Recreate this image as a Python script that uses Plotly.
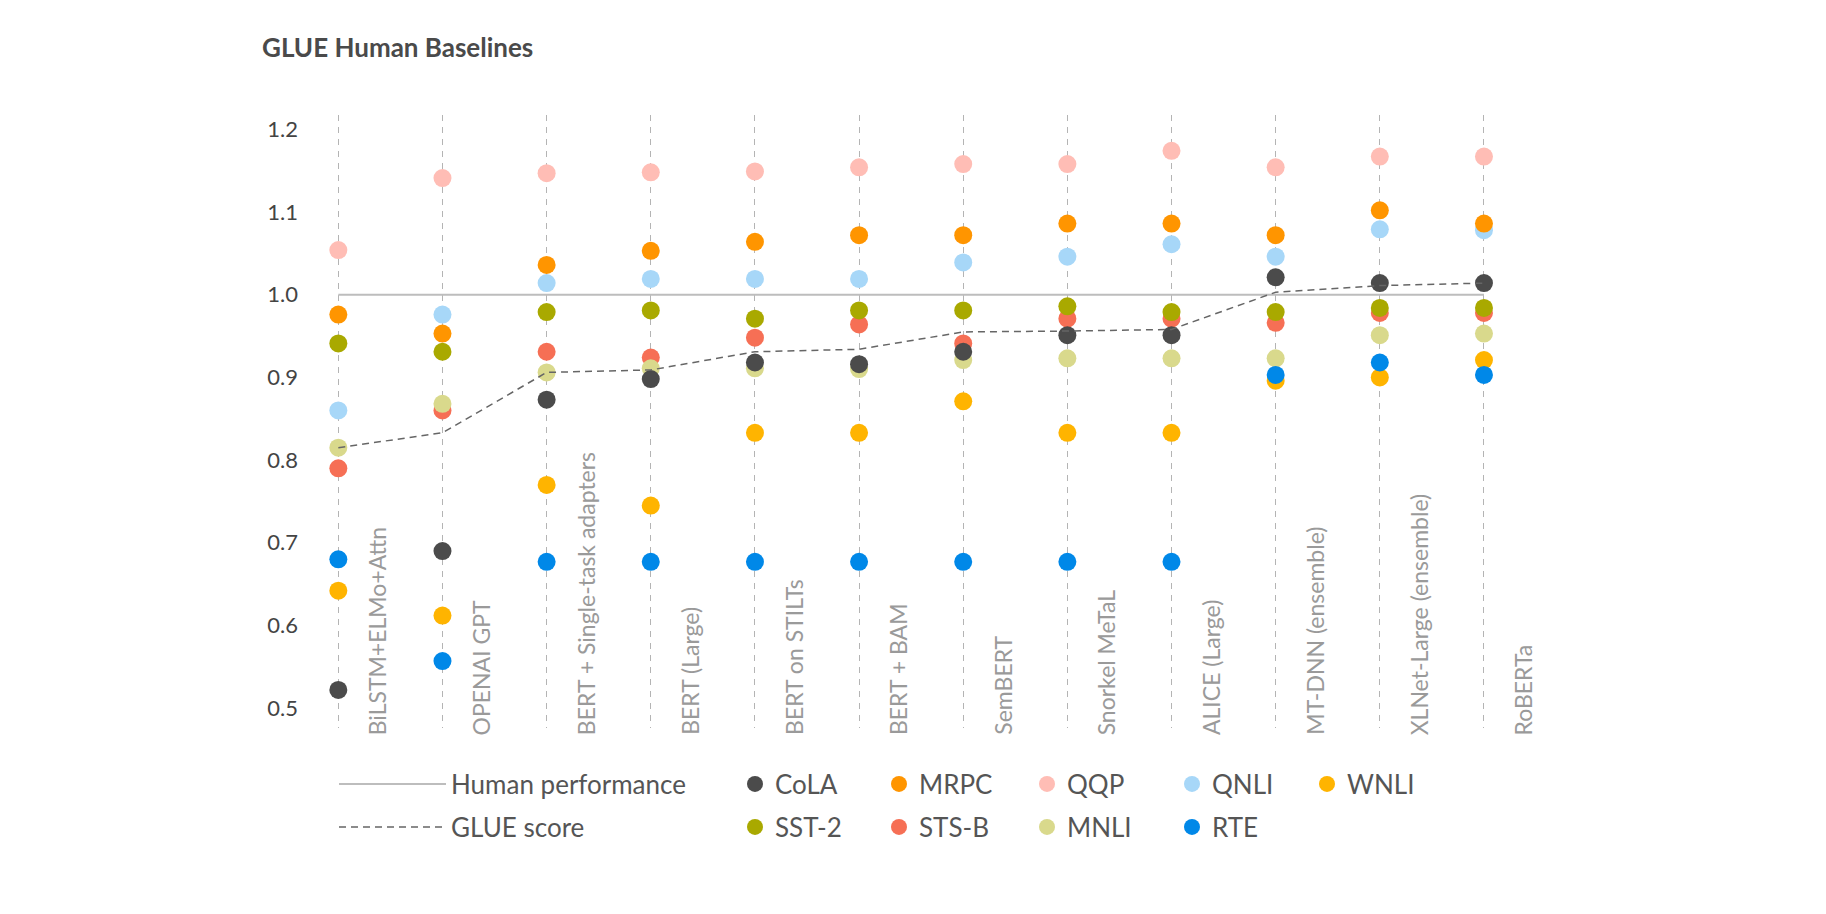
import plotly.graph_objects as go

models = ["BiLSTM+ELMo+Attn", "OPENAI GPT", "BERT + Single-task adapters", "BERT (Large)",
          "BERT on STILTs", "BERT + BAM", "SemBERT", "Snorkel MeTaL", "ALICE (Large)",
          "MT-DNN (ensemble)", "XLNet-Large (ensemble)", "RoBERTa"]

cola  = [0.522, 0.690, 0.873, 0.898, 0.918, 0.916, 0.931, 0.951, 0.951, 1.021, 1.014, 1.014]
sst2  = [0.941, 0.931, 0.979, 0.981, 0.971, 0.981, 0.981, 0.986, 0.979, 0.979, 0.984, 0.984]
mrpc  = [0.976, 0.953, 1.036, 1.053, 1.064, 1.072, 1.072, 1.086, 1.086, 1.072, 1.102, 1.086]
stsb  = [0.790, 0.860, 0.931, 0.924, 0.948, 0.964, 0.941, 0.971, 0.971, 0.966, 0.978, 0.978]
qqp   = [1.054, 1.141, 1.147, 1.148, 1.149, 1.154, 1.158, 1.158, 1.174, 1.154, 1.167, 1.167]
mnli  = [0.815, 0.868, 0.906, 0.911, 0.911, 0.910, 0.921, 0.923, 0.923, 0.923, 0.951, 0.953]
qnli  = [0.860, 0.976, 1.014, 1.019, 1.019, 1.019, 1.039, 1.046, 1.061, 1.046, 1.079, 1.078]
rte   = [0.680, 0.557, 0.677, 0.677, 0.677, 0.677, 0.677, 0.677, 0.677, 0.903, 0.918, 0.903]
wnli  = [0.642, 0.612, 0.770, 0.745, 0.833, 0.833, 0.871, 0.833, 0.833, 0.896, 0.900, 0.921]
glue  = [0.815, 0.833, 0.906, 0.909, 0.931, 0.934, 0.955, 0.956, 0.958, 1.003, 1.011, 1.014]
human = [1.0] * len(models)

y_ticks = [0.5, 0.6, 0.7, 0.8, 0.9, 1.0, 1.1, 1.2]

tasks = {
    "CoLA": (cola, "#4b4b4b"),
    "SST-2": (sst2, "#a9a900"),
    "MRPC": (mrpc, "#ff9500"),
    "STS-B": (stsb, "#f66f55"),
    "QQP": (qqp, "#ffbdb5"),
    "MNLI": (mnli, "#d9d98c"),
    "QNLI": (qnli, "#a7d7f8"),
    "RTE": (rte, "#0088e8"),
    "WNLI": (wnli, "#ffb400"),
}
legend_pos = {
    "CoLA": (727, 776), "SST-2": (727, 819),
    "MRPC": (871, 776), "STS-B": (871, 819),
    "QQP": (1019, 776), "MNLI": (1019, 819),
    "QNLI": (1164, 776), "RTE": (1164, 819),
    "WNLI": (1299, 776),
}
draw_order = ["QQP", "QNLI", "MRPC", "STS-B", "SST-2", "MNLI", "CoLA", "WNLI", "RTE"]

W, H = 1826, 914
FONT = "Lato, Source Sans Pro, sans-serif"
xs = list(range(len(models)))

fig = go.Figure()
layout_legends = {}

def cx(px):
    return px / W

def cy(py):
    return 1 - py / H

fig.add_trace(go.Scatter(x=xs, y=human, mode="lines", name="Human performance",
                         line=dict(color="#bdbdbd", width=2), legend="legend"))
layout_legends["legend"] = dict(x=cx(326), y=cy(776), itemwidth=107)

for i, name in enumerate(draw_order):
    vals, col = tasks[name]
    lid = "legend%d" % (i + 3)
    fig.add_trace(go.Scatter(x=xs, y=vals, mode="markers", name=name,
                             marker=dict(color=col, size=18, line=dict(width=0)),
                             legend=lid))
    px, py = legend_pos[name]
    layout_legends[lid] = dict(x=cx(px), y=cy(py))

fig.add_trace(go.Scatter(x=xs, y=glue, mode="lines", name="GLUE score",
                         line=dict(color="#666666", width=1.5, dash="7px,5px"), legend="legend2"))
layout_legends["legend2"] = dict(x=cx(326), y=cy(819), itemwidth=107)

for k, v in layout_legends.items():
    v.update(xref="container", yref="container", xanchor="left", yanchor="middle",
             bgcolor="rgba(0,0,0,0)", font=dict(family=FONT, size=26, color="#555555"))
    fig.update_layout(**{k: v})

annotations = []
for i, m in enumerate(models):
    annotations.append(dict(x=i, y=0, xref="x", yref="paper", text=m, showarrow=False,
                            textangle=-90, xanchor="center", yanchor="bottom",
                            xshift=39, yshift=-9,
                            font=dict(family=FONT, size=23, color="#9a9a9a")))

fig.update_layout(
    width=W, height=H,
    margin=dict(l=297, r=W - 1552, t=107, b=H - 720, autoexpand=False),
    paper_bgcolor="white", plot_bgcolor="white",
    showlegend=True,
    title=dict(text="<b>GLUE Human Baselines</b>", x=254 / W, xref="container", xanchor="left",
               y=cy(40), yref="container", yanchor="middle",
               font=dict(family=FONT, size=26, color="#4a4a4a")),
    xaxis=dict(range=[-0.32, 11.73], tickvals=xs, showticklabels=False, showgrid=True,
               gridcolor="#b4b4b4", gridwidth=1, griddash="6px,6px", zeroline=False,
               showline=False, ticks=""),
    yaxis=dict(range=[0.476, 1.2173], tickvals=y_ticks, tickformat=".1f", showgrid=False,
               zeroline=False, showline=False, ticks="", ticklabelstandoff=6,
               tickfont=dict(family=FONT, size=22, color="#444444")),
    annotations=annotations,
)

fig.write_html("out.html")
